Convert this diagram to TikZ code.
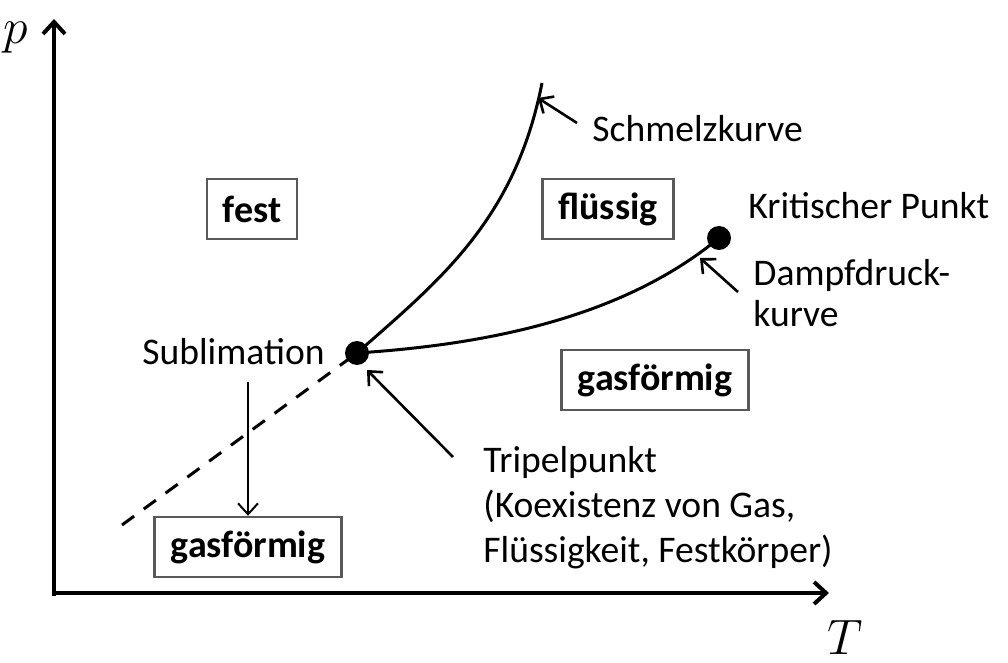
\documentclass[tikz,border=0pt]{standalone}
\usepackage{fontspec}
\setmainfont{Carlito}
\usetikzlibrary{arrows.meta,calc,positioning}

\tikzset{
	axis/.style={line width=2pt, -{Straight Barb[length=6pt,width=11pt]}},
	curve/.style={line width=1.5pt},
	pointer/.style={line width=1.3pt, -{Straight Barb[length=5.5pt,width=10pt]}},
	phase/.style={draw=black!65, line width=1.2pt, font=\fontsize{19}{22.5}\selectfont\bfseries,
		inner xsep=8pt, minimum height=30pt},
	note/.style={inner sep=0pt, font=\fontsize{18.8}{22.5}\selectfont},
	dot/.style={circle, fill=black, inner sep=0pt, minimum size=12pt}
}

\begin{document}
\begin{tikzpicture}[x=0.5pt,y=-0.5pt]
		\useasboundingbox (0,0) rectangle (1008,663);

		% axes
		\coordinate (o) at (54,593);
		\draw[axis] (54,596) -- (54,19) coordinate (ptop);
		\draw[axis] (52,593) -- (829,593) coordinate (tright);
		\node[inner sep=0pt, font=\fontsize{25}{30}\selectfont] (plabel) at (16,38) {$p$};
		\node[inner sep=0pt, font=\fontsize{25}{30}\selectfont] (tlabel) at (845,637) {$T$};

		% points and curves
		\node[dot] (tripel) at (357,353) {};
		\node[dot] (krit) at (719,238) {};
		\draw[curve] (tripel.center) .. controls (440,280) and (515,220) .. (542,83) coordinate (schmelztop);
		\draw[curve] (tripel.center) .. controls (480,345) and (620,320) .. (krit.center);
		\draw[curve, dash pattern=on 7.5pt off 6pt] (122,525) coordinate (subend) -- (tripel.center);

		% phases
		\node[phase] (fest) at (252,209) {fest};
		\node[phase] (fluessig) at (608,209) {flüssig};
		\node[phase] (gasoben) at (655,380) {gasförmig};
		\node[phase] (gasunten) at (248,547) {gasförmig};

		% labels
		\node[note, anchor=west] (schmelz) at (592,129) {Schmelzkurve};
		\node[note, anchor=west] (kritlabel) at (748,206) {Kritischer Punkt};
		\node[note, anchor=north west, align=left, font=\fontsize{18.8}{20.5}\selectfont] (dampf) at (753,259) {Dampfdruck-\\kurve};
		\node[note, anchor=west] (sublim) at (142,352) {Sublimation};
		\node[note, anchor=north west, align=left] (tripeltext) at (483,446) {Tripelpunkt\\(Koexistenz von Gas,\\Flüssigkeit, Festkörper)};

		% pointers
		\coordinate (schmelzfuss) at (577,123);
		\coordinate (schmelzspitze) at (538,98);
		\draw[pointer] (schmelzfuss) -- (schmelzspitze);
		\coordinate (dampffuss) at (738,292);
		\coordinate (dampfspitze) at (700,258);
		\draw[pointer] (dampffuss) -- (dampfspitze);
		\coordinate (tripelfuss) at (453,457);
		\coordinate (tripelspitze) at (367,370);
		\draw[pointer] (tripelfuss) -- (tripelspitze);
		\draw[pointer, line width=1pt, shorten <=8pt] (gasunten.north |- sublim.south) -- (gasunten.north);

	\end{tikzpicture}
\end{document}
